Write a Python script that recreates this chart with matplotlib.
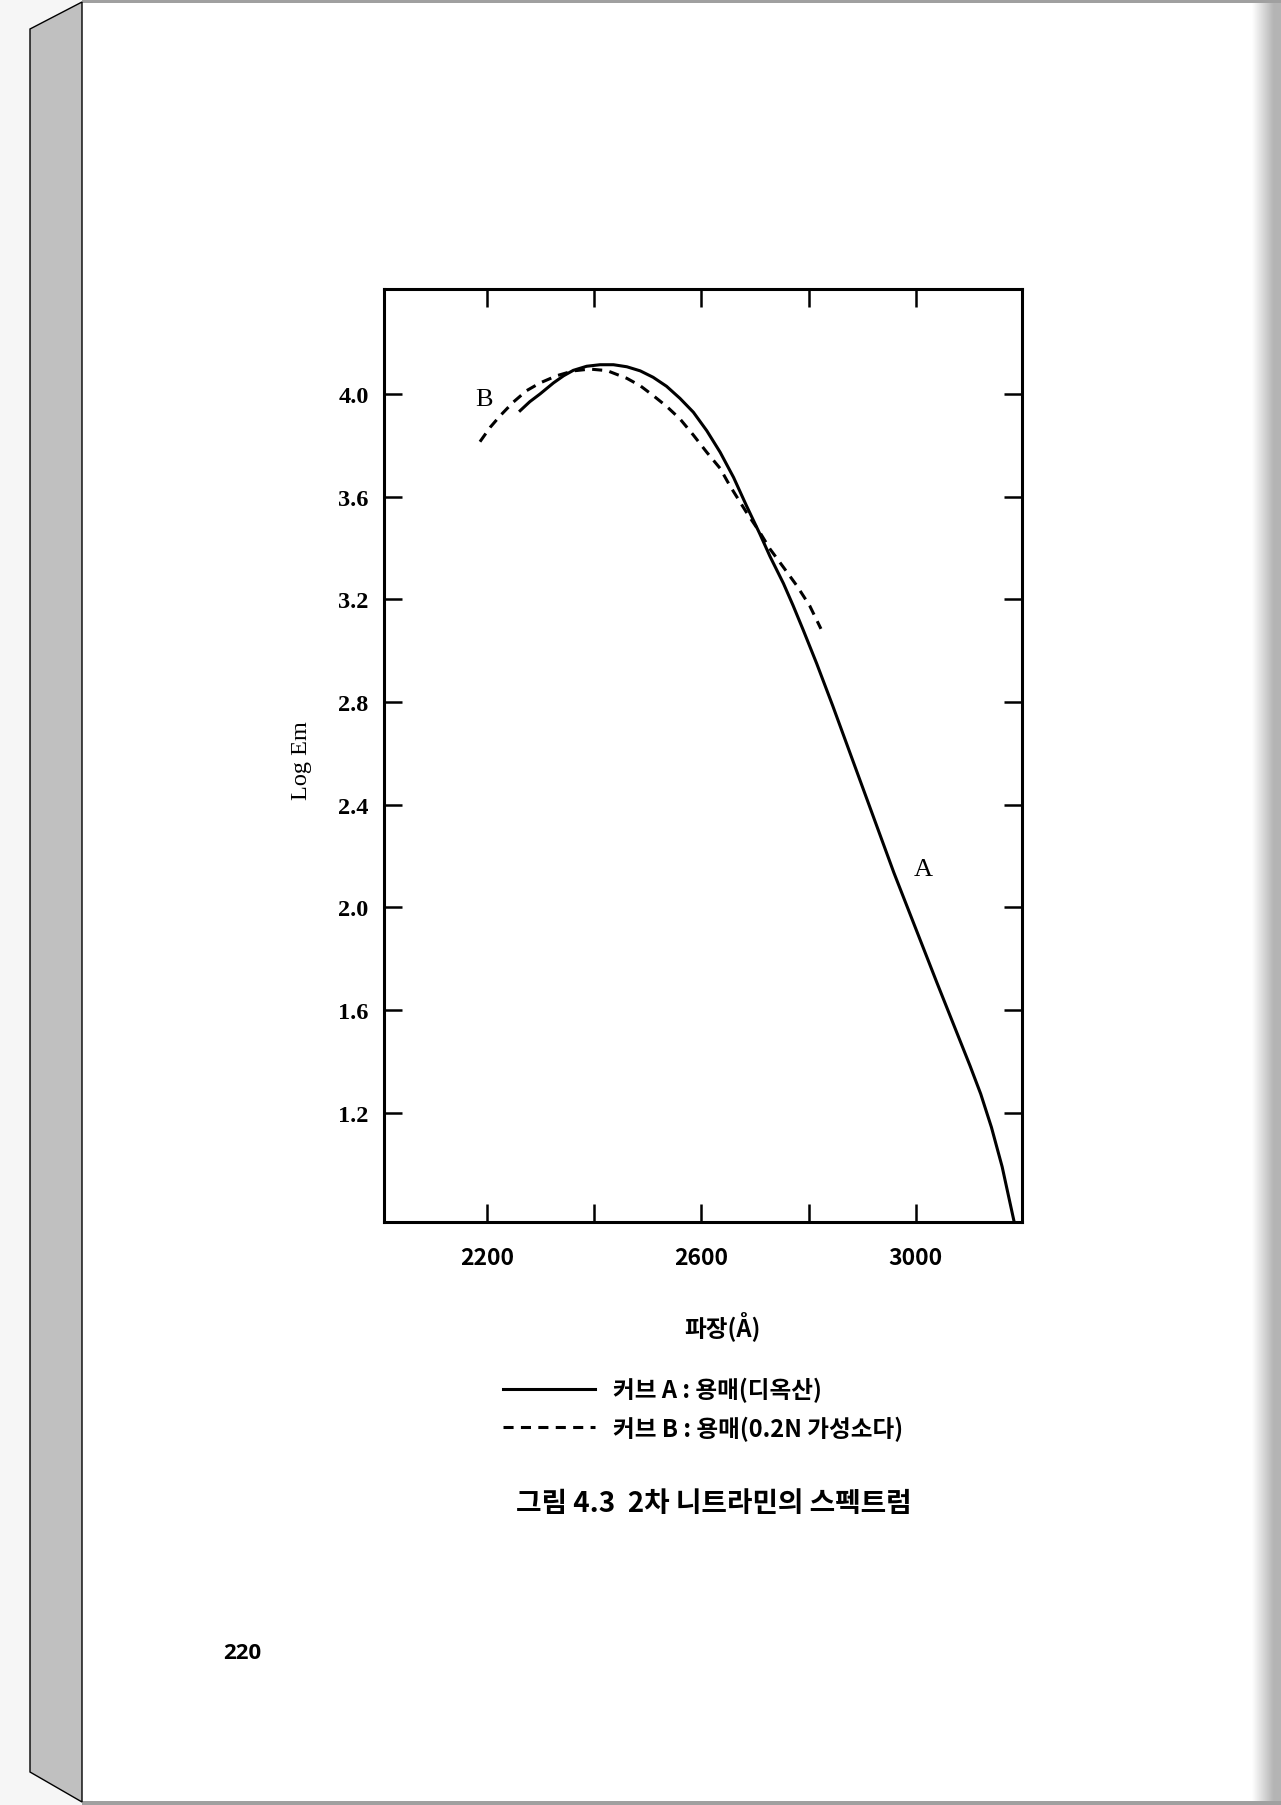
import numpy as np
import matplotlib.pyplot as plt
from matplotlib.patches import Polygon, Rectangle
from matplotlib.colors import LinearSegmentedColormap

# curve A : solvent dioxane
wave_a = [2262, 2280, 2299, 2324, 2343, 2361, 2386, 2411, 2436, 2461, 2486, 2510,
          2535, 2560, 2585, 2610, 2635, 2660, 2684, 2709, 2728, 2753, 2771, 2790,
          2815, 2845, 2902, 2959, 3039, 3101, 3121, 3141, 3161, 3183]
log_a = [3.935, 3.970, 4.000, 4.043, 4.071, 4.092, 4.108, 4.114, 4.114, 4.106, 4.090, 4.065,
         4.030, 3.983, 3.929, 3.857, 3.773, 3.675, 3.565, 3.455, 3.367, 3.262, 3.176, 3.080,
         2.950, 2.785, 2.460, 2.135, 1.708, 1.383, 1.273, 1.143, 0.989, 0.778]

# curve B : solvent 0.2N NaOH
wave_b = [2187, 2206, 2225, 2249, 2274, 2299, 2330, 2361, 2392, 2424, 2461, 2486,
          2510, 2535, 2560, 2585, 2610, 2635, 2653, 2684, 2709, 2728, 2753, 2778,
          2802, 2823]
log_b = [3.814, 3.870, 3.916, 3.968, 4.013, 4.043, 4.071, 4.090, 4.097, 4.091, 4.061, 4.032,
         3.994, 3.952, 3.903, 3.840, 3.773, 3.710, 3.643, 3.539, 3.461, 3.396, 3.325, 3.253,
         3.175, 3.085]

x_ticks = [2200, 2400, 2600, 2800, 3000]
x_tick_labels = ['2200', '', '2600', '', '3000']
y_ticks = [1.2, 1.6, 2.0, 2.4, 2.8, 3.2, 3.6, 4.0]
y_tick_labels = ['1.2', '1.6', '2.0', '2.4', '2.8', '3.2', '3.6', '4.0']

legend_labels = ['커브 A : 용매(디옥산)', '커브 B : 용매(0.2N 가성소다)']
caption = '그림 4.3  2차 니트라민의 스펙트럼'
page_no = '220'

kr = ['Noto Sans CJK KR', 'DejaVu Sans']
serif = ['Liberation Serif', 'DejaVu Serif']

W, H = 1281, 1806
fig = plt.figure(figsize=(W / 100, H / 100), dpi=100)

# page look (book spine on the left, shadow on the right), pixel coords
bg = fig.add_axes([0, 0, 1, 1], zorder=0)
bg.add_patch(Rectangle((0, 0), W, H, color='#f6f6f6', lw=0))
bg.add_patch(Rectangle((82, 3), W - 82, 1800, color='white', lw=0))
shade = LinearSegmentedColormap.from_list('shade', ['white', '#b4b4b4'])
bg.imshow(np.linspace(0, 1, 64)[None, :], cmap=shade, aspect='auto',
          extent=(1252, 1274, 1803, 3), zorder=1)
bg.add_patch(Rectangle((1274, 3), W - 1274, 1800, color='#b4b4b4', lw=0, zorder=1))
bg.add_patch(Rectangle((82, 0), W - 82, 3.5, color='#a0a0a0', lw=0, zorder=2))
bg.add_patch(Rectangle((82, 1802.5), W - 82, 3.5, color='#a0a0a0', lw=0, zorder=2))
bg.add_patch(Polygon([(30, 30), (82, 3), (82, 1803), (30, 1773)], closed=True,
                     fc='#c0c0c0', ec='black', lw=1, zorder=3))
bg.set_xlim(0, W)
bg.set_ylim(H, 0)
bg.axis('off')

ax = fig.add_axes([384 / W, 1 - 1223 / H, (1022 - 384) / W, (1223 - 290) / H], zorder=2)
line_a, = ax.plot(wave_a, log_a, color='black', lw=2.2, solid_joinstyle='round')
line_b, = ax.plot(wave_b, log_b, color='black', lw=2.2, linestyle=(0, (3.3, 2.4)))

ax.text(2195, 3.98, 'B', family=serif, fontsize=19, ha='center', va='center')
ax.text(3013, 2.15, 'A', family=serif, fontsize=19, ha='center', va='center')

ax.set_xlim(2008, 3198)
ax.set_ylim(0.774, 4.409)
ax.set_xticks(x_ticks)
ax.set_xticklabels(x_tick_labels, family=kr, fontsize=16.5, fontweight='bold')
ax.set_yticks(y_ticks)
ax.set_yticklabels(y_tick_labels, family=serif, fontsize=17.5, fontweight='bold')
ax.tick_params(direction='in', length=13, width=1.8, top=True, right=True)
ax.tick_params(axis='x', pad=17)
ax.tick_params(axis='y', pad=11)
for s in ax.spines.values():
    s.set_linewidth(2.2)

ax.set_ylabel('Log Em', family=serif, fontsize=17.5, va='center', ha='center')
ax.yaxis.set_label_coords(-0.129, 0.496)
ax.set_xlabel('파장(Å)', family=kr, fontsize=17, fontweight='bold', va='center', ha='center')
ax.xaxis.set_label_coords(0.531, -0.1115)

fig.legend([line_a, line_b], legend_labels, loc='center left',
           bbox_to_anchor=(503 / W, 1 - 1410 / H), frameon=False,
           prop={'family': kr, 'size': 17, 'weight': 'bold'}, handlelength=3.9,
           handletextpad=0.75, labelspacing=0.55, borderpad=0, borderaxespad=0)

fig.text(714 / W, 1 - 1504 / H, caption, family=kr, fontsize=20, fontweight='bold',
         ha='center', va='center')
fig.text(242 / W, 1 - 1654 / H, page_no, family=['Open Sans', 'DejaVu Sans'], fontsize=16,
         fontweight='bold', ha='center', va='center')

fig.savefig('out.png', dpi=100)
